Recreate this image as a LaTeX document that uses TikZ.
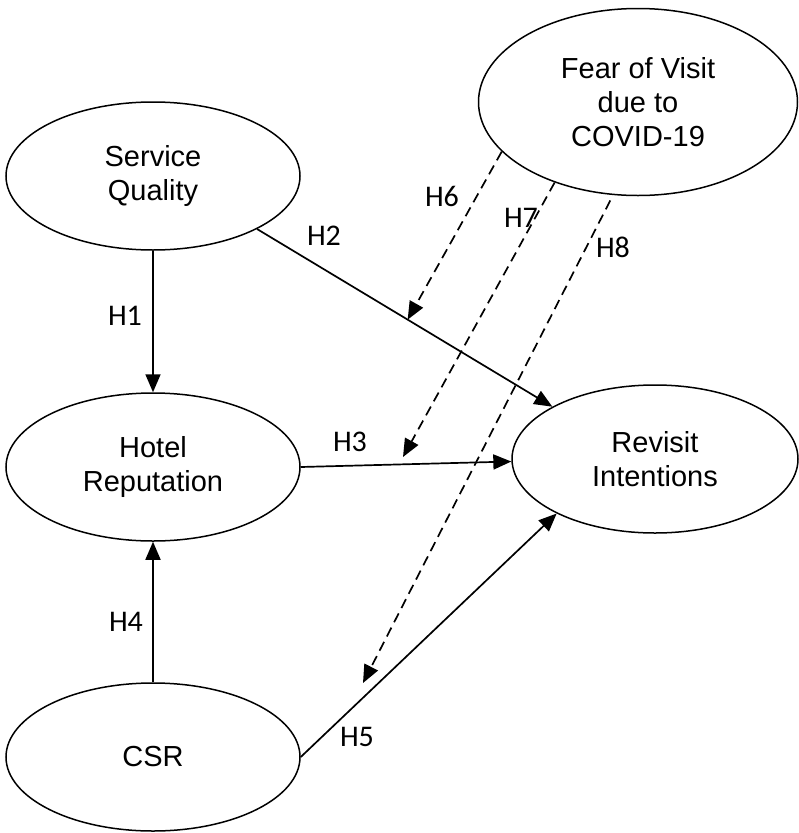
\documentclass[tikz,border=0pt]{standalone}
\usepackage{fontspec}
\setmainfont{Liberation Sans}
\newfontfamily\hypfont{Carlito}
\usetikzlibrary{shapes.geometric,arrows.meta}

\begin{document}
\begin{tikzpicture}[x=1pt,y=-1pt,
  construct/.style={ellipse, draw, line width=1.5pt, inner sep=0pt,
    align=center, font=\fontsize{29}{34}\selectfont},
  link/.style={line width=1.7pt, -{Triangle[length=18pt,width=15pt]}},
  moderation/.style={link, dash pattern=on 10pt off 6pt},
  hyp/.style={font=\hypfont\fontsize{30}{30}\selectfont, inner sep=0pt}
]
\useasboundingbox (0,0) rectangle (799,833);

% constructs
\node[construct, minimum width=294pt, minimum height=148pt] (sq)  at (153,176) {Service\\Quality};
\node[construct, minimum width=294pt, minimum height=148pt] (hr)  at (153,467) {Hotel\\Reputation};
\node[construct, minimum width=294pt, minimum height=148pt] (csr) at (153,757) {CSR};
\node[construct, minimum width=286pt, minimum height=148pt] (ri)  at (655,459) {Revisit\\Intentions};
\node[construct, minimum width=319pt, minimum height=187pt] (fv)  at (638,102) {Fear of Visit\\due to\\COVID-19};

% direct effects
\draw[link] (sq.south) -- (hr.north);
\draw[link] (csr.north) -- (hr.south);
\draw[link] (sq.-27) -- coordinate[pos=0.51] (m6) (ri.153);
\draw[link] (hr.east) -- (ri.181);
\draw[link] (csr.east) -- (ri.209);

% moderating effects of fear of visit
\coordinate (m7) at (403,457);
\coordinate (m8) at (363,683);
\draw[moderation] (fv.200) -- (m6);
\draw[moderation] (fv.224) -- (m7);
\draw[moderation, shorten <=6pt] (fv.255) -- (m8);

% hypothesis labels
\node[hyp] (h1) at (125,316) {H1};
\node[hyp] (h2) at (324,236) {H2};
\node[hyp] (h3) at (350,442) {H3};
\node[hyp] (h4) at (126,622) {H4};
\node[hyp] (h5) at (357,737) {H5};
\node[hyp] (h6) at (442,196) {H6};
\node[hyp] (h7) at (521,218) {H7};
\node[hyp] (h8) at (613,247) {H8};
\end{tikzpicture}
\end{document}
